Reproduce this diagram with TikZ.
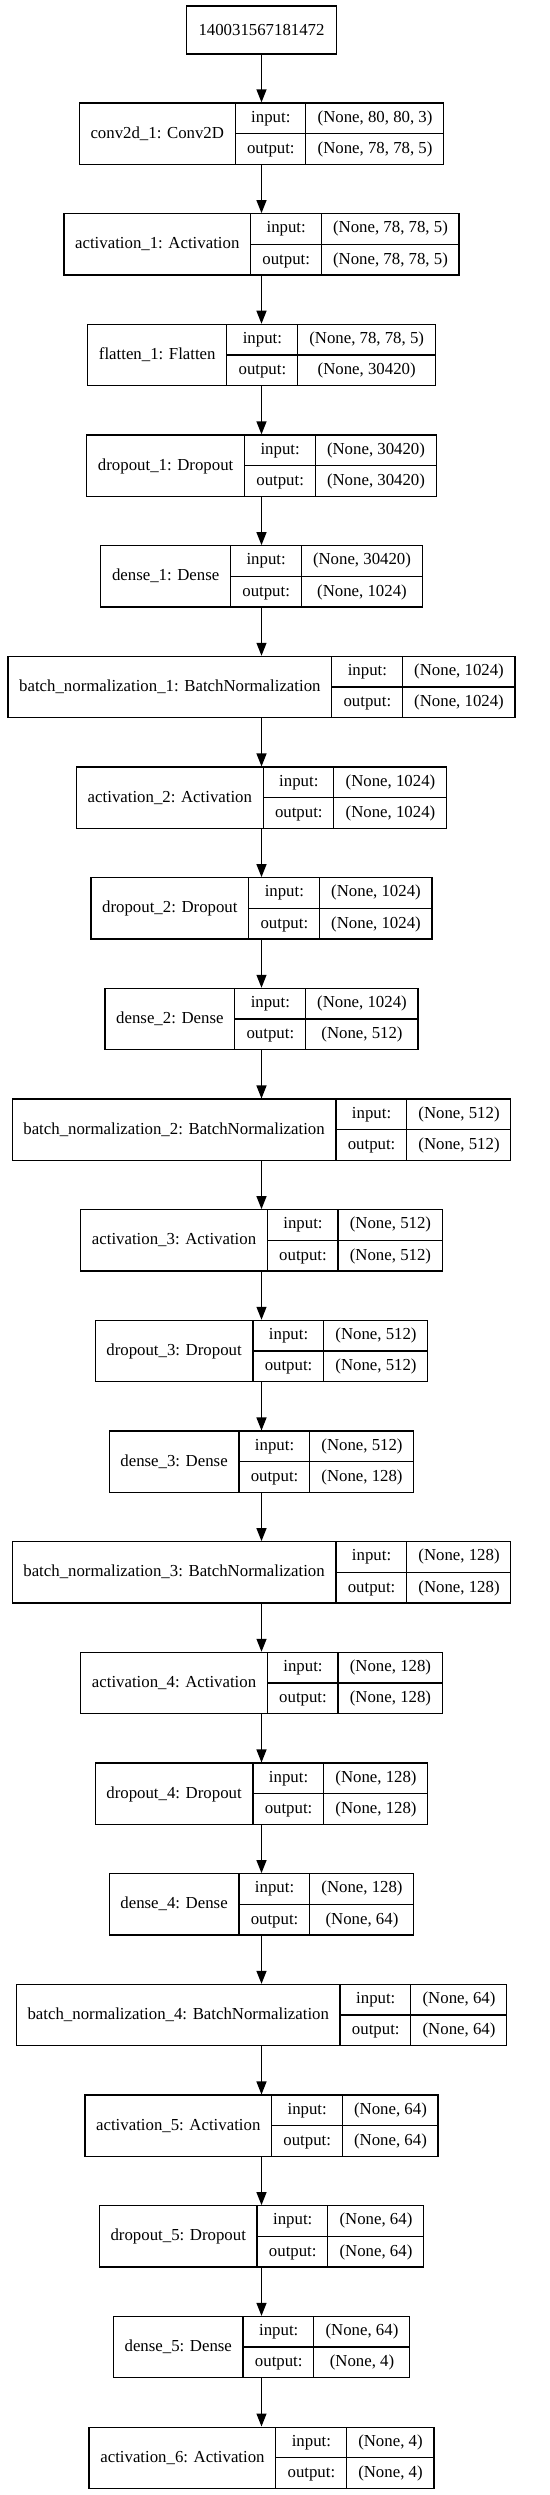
\documentclass[tikz,border=0pt]{standalone}
\usepackage{fontspec}
\setmainfont{Liberation Serif}
\usetikzlibrary{arrows.meta}
\setlength{\arrayrulewidth}{1.3pt}
\renewcommand{\arraystretch}{0}
\newcommand{\cellpad}{\hspace{11.2pt}}
\newcommand{\namecell}[1]{\begin{tabular}{@{\cellpad}c@{\cellpad}}\rule[-26.3pt]{0pt}{61.3pt}#1\end{tabular}}
\newcommand{\iocell}[2]{\begin{tabular}{@{\cellpad}c@{\cellpad}}\rule[-11pt]{0pt}{30pt}#1\\\hline\rule[-11pt]{0pt}{30pt}#2\end{tabular}}
\newcommand{\record}[3]{\begin{tabular}{@{}c@{}|@{}c@{}|@{}c@{}}\namecell{#1}&\iocell{input:}{output:}&\iocell{#2}{#3}\end{tabular}}
\tikzset{
  rec/.style={draw, line width=1.3pt, inner sep=0pt, fill=white, font=\fontsize{16.8pt}{20pt}\selectfont},
  idbox/.style={rec, minimum width=150pt, minimum height=48pt},
  edge/.style={-{Triangle[length=13pt,width=10pt]}, line width=1.3pt},
}
\newcommand{\layer}[4]{\node[rec] (l#1) at (261.5,{133.7+110.67*(#1-1)}) {\record{#2}{#3}{#4}};}

\begin{document}
\begin{tikzpicture}[x=1pt,y=-1pt]
  \fill[white] (0,0) rectangle (549,2495);
  \useasboundingbox (0,0) rectangle (549,2495);
  \node[idbox] (top) at (261.5,30) {140031567181472};
  \layer{1}{conv2d\_1: Conv2D}{(None, 80, 80, 3)}{(None, 78, 78, 5)}
  \layer{2}{activation\_1: Activation}{(None, 78, 78, 5)}{(None, 78, 78, 5)}
  \layer{3}{flatten\_1: Flatten}{(None, 78, 78, 5)}{(None, 30420)}
  \layer{4}{dropout\_1: Dropout}{(None, 30420)}{(None, 30420)}
  \layer{5}{dense\_1: Dense}{(None, 30420)}{(None, 1024)}
  \layer{6}{batch\_normalization\_1: BatchNormalization}{(None, 1024)}{(None, 1024)}
  \layer{7}{activation\_2: Activation}{(None, 1024)}{(None, 1024)}
  \layer{8}{dropout\_2: Dropout}{(None, 1024)}{(None, 1024)}
  \layer{9}{dense\_2: Dense}{(None, 1024)}{(None, 512)}
  \layer{10}{batch\_normalization\_2: BatchNormalization}{(None, 512)}{(None, 512)}
  \layer{11}{activation\_3: Activation}{(None, 512)}{(None, 512)}
  \layer{12}{dropout\_3: Dropout}{(None, 512)}{(None, 512)}
  \layer{13}{dense\_3: Dense}{(None, 512)}{(None, 128)}
  \layer{14}{batch\_normalization\_3: BatchNormalization}{(None, 128)}{(None, 128)}
  \layer{15}{activation\_4: Activation}{(None, 128)}{(None, 128)}
  \layer{16}{dropout\_4: Dropout}{(None, 128)}{(None, 128)}
  \layer{17}{dense\_4: Dense}{(None, 128)}{(None, 64)}
  \layer{18}{batch\_normalization\_4: BatchNormalization}{(None, 64)}{(None, 64)}
  \layer{19}{activation\_5: Activation}{(None, 64)}{(None, 64)}
  \layer{20}{dropout\_5: Dropout}{(None, 64)}{(None, 64)}
  \layer{21}{dense\_5: Dense}{(None, 64)}{(None, 4)}
  \layer{22}{activation\_6: Activation}{(None, 4)}{(None, 4)}
  \draw[edge] (top) -- (l1);
  \foreach \i [count=\j from 1] in {2,...,22}
    \draw[edge] (l\j) -- (l\i);
\end{tikzpicture}
\end{document}
